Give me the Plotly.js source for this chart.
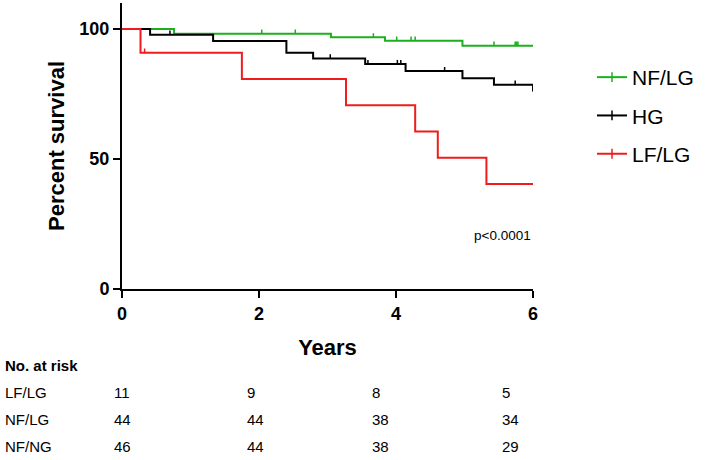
<!DOCTYPE html>
<html>
<head>
<meta charset="utf-8">
<script src="https://cdn.plot.ly/plotly-3.0.1.min.js"></script>
<style>html,body{margin:0;padding:0;background:#fff;}#chart{width:709px;height:460px;}</style>
</head>
<body>
<div id="chart"></div>
<script>
// ---- Data ----
const groupNames = ["NF/LG", "HG", "LF/LG"];

const nflgTimes = [0, 0.76, 3.05, 3.84, 4.97, 6.0];
const nflgSurv  = [100, 98.2, 96.8, 95.5, 93.6, 93.6];
const nflgCensorTimes = [2.04, 2.53, 3.67, 4.01, 4.22, 4.28, 5.43, 5.74, 5.76, 5.78];
const nflgCensorSurv  = [98.2, 98.2, 96.8, 95.5, 95.5, 95.5, 93.6, 93.6, 93.6, 93.6];

const hgTimes = [0, 0.41, 1.33, 2.40, 2.79, 3.55, 4.14, 4.97, 5.43, 6.0];
const hgSurv  = [100, 97.8, 95.4, 90.9, 88.7, 86.5, 83.8, 81.1, 78.6, 76.0];
const hgCensorTimes = [0.70, 3.04, 3.59, 4.02, 4.07, 4.71, 5.74];
const hgCensorSurv  = [97.8, 88.7, 86.5, 86.5, 86.5, 83.8, 78.6];

const lflgTimes = [0, 0.27, 1.75, 3.27, 4.28, 4.61, 5.32, 6.0];
const lflgSurv  = [100, 90.9, 80.8, 70.7, 60.6, 50.5, 40.4, 40.4];
const lflgCensorTimes = [0.33];
const lflgCensorSurv  = [90.9];

const xTicks = [0, 2, 4, 6];
const yTicks = [0, 50, 100];

const riskTitle = "No. at risk";
const riskRows = ["LF/LG", "NF/LG", "NF/NG"];
const riskLFLG = [11, 9, 8, 5];
const riskNFLG = [44, 44, 38, 34];
const riskNFNG = [46, 44, 38, 29];
const pText = "p<0.0001";

// ---- Styles ----
const FONT = "Arial, 'Liberation Sans', sans-serif";
const colors = ["#1cb01c", "#000000", "#ee1c1c"];
const W = 709, H = 460;
const M = {l: 122, r: 176, t: 3, b: 171};
const plotW = W - M.l - M.r, plotH = H - M.t - M.b;
const px2x = p => (p - M.l) / plotW;
const py2y = p => (H - M.b - p) / plotH;
const tickUp = 1.6;

function curve(t, s, c) {
  return {x: t, y: s, type: "scatter", mode: "lines", line: {shape: "hv", color: c, width: 2},
          showlegend: false, hoverinfo: "skip"};
}
function censor(t, s, c) {
  return {x: t, y: s, type: "scatter", mode: "markers", marker: {size: 1, opacity: 0, color: c},
          error_y: {type: "data", symmetric: false, array: t.map(() => tickUp), arrayminus: t.map(() => 0),
                    width: 0, thickness: 1.5, color: c},
          showlegend: false, hoverinfo: "skip"};
}
function legendItem(name, c, i) {
  return {x: [null], y: [null], type: "scatter", mode: "lines+markers", name: name,
          legendgroup: "g" + i,
          line: {color: c, width: 2}, marker: {symbol: "line-ns-open", size: 7, color: c, line: {color: c, width: 1.5}}};
}

const data = [
  curve(nflgTimes, nflgSurv, colors[0]), censor(nflgCensorTimes, nflgCensorSurv, colors[0]),
  curve(hgTimes, hgSurv, colors[1]), censor(hgCensorTimes, hgCensorSurv, colors[1]),
  curve(lflgTimes, lflgSurv, colors[2]), censor(lflgCensorTimes, lflgCensorSurv, colors[2]),
  legendItem(groupNames[0], colors[0], 0),
  legendItem(groupNames[1], colors[1], 1),
  legendItem(groupNames[2], colors[2], 2)
];

const annotations = [];
annotations.push({xref: "x", yref: "y", x: 6, y: (H - M.b - 235) / plotH * 110, text: pText, showarrow: false,
                  xanchor: "right", yanchor: "middle", font: {family: FONT, size: 13.5, color: "#000"}});
annotations.push({xref: "paper", yref: "paper", x: px2x(3), y: py2y(365), text: "<b>" + riskTitle + "</b>",
                  showarrow: false, xanchor: "left", yanchor: "middle", font: {family: FONT, size: 15, color: "#000"}});
const rowY = [392, 419, 446];
const colX = [112, 245, 370, 500];
const riskVals = [riskLFLG, riskNFLG, riskNFNG];
riskRows.forEach((r, i) => {
  annotations.push({xref: "paper", yref: "paper", x: px2x(3), y: py2y(rowY[i]), text: r, showarrow: false,
                    xanchor: "left", yanchor: "middle", font: {family: FONT, size: 15, color: "#000"}});
  riskVals[i].forEach((v, j) => {
    annotations.push({xref: "paper", yref: "paper", x: px2x(colX[j]), y: py2y(rowY[i]), text: String(v), showarrow: false,
                      xanchor: "left", yanchor: "middle", font: {family: FONT, size: 15, color: "#000"}});
  });
});

const layout = {
  width: W, height: H,
  margin: M,
  paper_bgcolor: "#fff", plot_bgcolor: "#fff",
  showlegend: true,
  legend: {x: px2x(592), y: py2y(57), xanchor: "left", yanchor: "top", tracegroupgap: 8,
           font: {family: FONT, size: 21, color: "#000"}, bgcolor: "rgba(0,0,0,0)"},
  xaxis: {range: [0, 6], tickvals: xTicks, ticktext: xTicks.map(v => "<b>" + v + "</b>"),
          showline: true, linecolor: "#000", linewidth: 2, ticks: "outside", ticklen: 7, tickwidth: 2, tickcolor: "#000",
          showgrid: false, zeroline: false, tickfont: {family: FONT, size: 18, color: "#000"},
          title: {text: "<b>Years</b>", font: {family: FONT, size: 22, color: "#000"}, standoff: 17}},
  yaxis: {range: [0, 110], tickvals: yTicks, ticktext: yTicks.map(v => "<b>" + v + "</b>"),
          showline: true, linecolor: "#000", linewidth: 2, ticks: "outside", ticklen: 7, tickwidth: 2, tickcolor: "#000",
          showgrid: false, zeroline: false, tickfont: {family: FONT, size: 18, color: "#000"},
          title: {text: "<b>Percent survival</b>", font: {family: FONT, size: 22, color: "#000"}, standoff: 9}},
  annotations: annotations
};

Plotly.newPlot("chart", data, layout, {displayModeBar: false, staticPlot: true});
</script>
</body>
</html>
